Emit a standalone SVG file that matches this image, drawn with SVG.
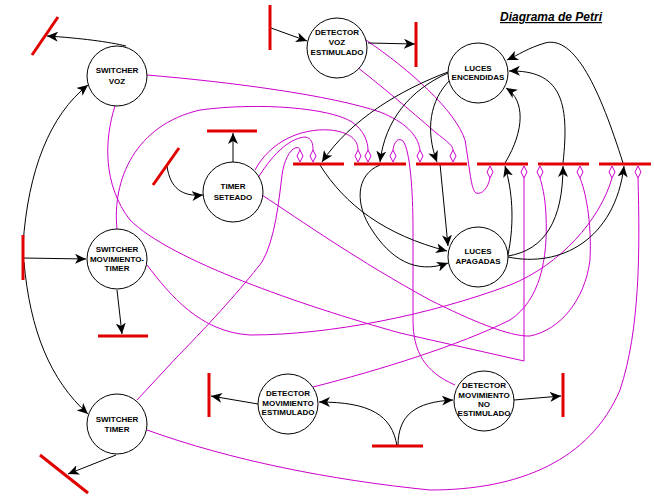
<svg xmlns="http://www.w3.org/2000/svg" width="654" height="500" viewBox="0 0 654 500">
<style>
.n circle{fill:#fff;stroke:#000;stroke-width:1}
.n text{font-family:"Liberation Sans",Arial,sans-serif;font-size:8px;font-weight:bold;text-anchor:middle;fill:#000}
.bar{stroke:#e00000;stroke-width:3;fill:none}
.a{fill:none;stroke:#000;stroke-width:1;marker-end:url(#ah)}
.m{fill:none;stroke:#cc00cc;stroke-width:1}
.d{fill:#fff;stroke:#cc00cc;stroke-width:1}
</style>
<defs>
<marker id="ah" markerUnits="userSpaceOnUse" markerWidth="12" markerHeight="10" refX="11" refY="5" orient="auto">
<path d="M0,0 L11,5 L0,10 L3,5 z" fill="#000"/>
</marker>
<path id="du" d="M0,0 L-3,-6 L0,-12 L3,-6 z"/>
<path id="dd" d="M0,0 L-3,6 L0,12 L3,6 z"/>
</defs>
<rect width="654" height="500" fill="#fff"/>
<text x="500" y="21" font-family="Liberation Sans,Arial,sans-serif" font-size="12" font-weight="bold" font-style="italic" text-decoration="underline">Diagrama de Petri</text>

<g id="connectors">
<g id="inhibitors">
<path class="m" d="M147,75 C230,82 330,95 380,112 C405,122 418,135 420,150"/>
<path class="m" d="M357,67 C380,85 410,110 435,132 C448,142 453,146 453,150"/>
<path class="m" d="M117,229 C112,180 135,125 200,110 C260,102 330,108 352,122 C364,130 368,142 368,150"/>
<path class="m" d="M258,178 C275,150 292,138 305,137 C312,138 313,144 313,150"/>
<path class="m" d="M255,170 C270,142 300,128 330,130 C350,132 358,140 358,150"/>
<path class="m" d="M137,400 L177,357 C215,318 240,290 262,262 C275,240 279,200 282,175 C284,160 290,150 295,148 C298,147 300,148 300,150"/>
<path class="m" d="M455,385 C425,372 413,352 413,320 L413,230 C413,190 410,150 403,141 C398,137 394,142 393,150"/>
<path class="m" d="M366,40 C410,70 455,110 465,140 C470,170 471,190 476,193 C482,195 488,188 490,178"/>
<path class="m" d="M115,106 C104,140 103,185 130,220 C170,260 300,305 400,333 L524,361 L524,178"/>
<path class="m" d="M262,195 C300,220 360,262 430,300 C470,320 510,337 530,336 C560,330 585,300 590,260 C592,220 585,190 580,178"/>
<path class="m" d="M147,265 C170,295 200,332 250,335 C330,335 430,315 510,285 C560,265 600,220 612,178"/>
<path class="m" d="M313,387 C380,370 460,345 510,320 C540,300 548,260 546,215 C545,195 542,185 540,178"/>
<path class="m" d="M147,430 C230,460 330,480 430,490 C520,490 590,460 620,390 C640,330 640,250 638,178"/>
</g>
<g id="diamonds" class="d">
<use href="#du" x="300" y="162" class="d"/>
<use href="#du" x="313" y="162" class="d"/>
<use href="#du" x="358" y="162" class="d"/>
<use href="#du" x="368" y="162" class="d"/>
<use href="#du" x="393" y="162" class="d"/>
<use href="#du" x="420" y="162" class="d"/>
<use href="#du" x="453" y="162" class="d"/>
<use href="#dd" x="490" y="166" class="d"/>
<use href="#dd" x="524" y="166" class="d"/>
<use href="#dd" x="540" y="166" class="d"/>
<use href="#dd" x="580" y="166" class="d"/>
<use href="#dd" x="612" y="166" class="d"/>
<use href="#dd" x="638" y="166" class="d"/>
</g>
<g id="arcs">
<path class="a" d="M126,46 C110,42 80,38 47,36"/>
<path class="a" d="M23,245 C28,170 50,115 88,85"/>
<path class="a" d="M23,258 L86,259"/>
<path class="a" d="M24,262 C30,330 50,380 88,414"/>
<path class="a" d="M117,290 L122,334"/>
<path class="a" d="M116,455 L68,474"/>
<path class="a" d="M271,28 L307,41"/>
<path class="a" d="M368,43 L415,44"/>
<path class="a" d="M167,166 C170,188 182,197 203,195"/>
<path class="a" d="M233,162 L233,133"/>
<path class="a" d="M258,404 L211,396"/>
<path class="a" d="M397,446 C392,415 370,402 319,402"/>
<path class="a" d="M398,446 C398,415 415,402 453,400"/>
<path class="a" d="M514,400 L561,396"/>
<path class="a" d="M448,72 C400,90 350,120 322,162"/>
<path class="a" d="M448,73 C410,90 385,120 380,162"/>
<path class="a" d="M450,80 C430,100 425,130 437,162"/>
<path class="a" d="M505,163 C525,130 525,100 506,88"/>
<path class="a" d="M563,163 C570,100 560,70 509,71"/>
<path class="a" d="M623,163 C600,90 575,35 545,43 C528,48 518,55 507,60"/>
<path class="a" d="M320,165 C345,205 385,235 447,251"/>
<path class="a" d="M380,165 C355,175 355,205 372,230 C390,258 415,275 448,263"/>
<path class="a" d="M440,164 L448,246"/>
<path class="a" d="M508,255 C515,220 512,190 505,166"/>
<path class="a" d="M508,256 C545,250 563,220 563,166"/>
<path class="a" d="M508,257 C560,268 615,240 624,166"/>
</g>
</g>

<g id="transitions" class="bar">
<line x1="58" y1="17" x2="32" y2="55"/>
<line x1="270" y1="5" x2="270" y2="50"/>
<line x1="416" y1="22" x2="416" y2="67"/>
<line x1="207" y1="131" x2="257" y2="131"/>
<line x1="179" y1="148" x2="153" y2="185"/>
<line x1="23" y1="235" x2="23" y2="280"/>
<line x1="98" y1="336" x2="148" y2="336"/>
<line x1="40" y1="455" x2="88" y2="493"/>
<line x1="209" y1="373" x2="209" y2="417"/>
<line x1="372" y1="446" x2="423" y2="446"/>
<line x1="563" y1="373" x2="563" y2="417"/>
<line x1="293" y1="164" x2="344" y2="164"/>
<line x1="354" y1="164" x2="406" y2="164"/>
<line x1="416" y1="164" x2="467" y2="164"/>
<line x1="477" y1="164" x2="528" y2="164"/>
<line x1="538" y1="164" x2="589" y2="164"/>
<line x1="599" y1="164" x2="651" y2="164"/>
</g>

<g id="switcher-voz" class="n"><circle cx="117" cy="76" r="30"/><text x="117" y="73">SWITCHER</text><text x="117" y="84">VOZ</text></g>
<g id="detector-voz" class="n"><circle cx="337" cy="48" r="30"/><text x="337" y="35">DETECTOR</text><text x="337" y="45">VOZ</text><text x="337" y="55">ESTIMULADO</text></g>
<g id="luces-encendidas" class="n"><circle cx="478" cy="73" r="30"/><text x="478" y="71">LUCES</text><text x="478" y="80">ENCENDIDAS</text></g>
<g id="timer-seteado" class="n"><circle cx="233" cy="192" r="30"/><text x="233" y="189">TIMER</text><text x="233" y="200">SETEADO</text></g>
<g id="switcher-mov-timer" class="n"><circle cx="117" cy="259" r="30"/><text x="117" y="252">SWITCHER</text><text x="117" y="262">MOVIMIENTO-</text><text x="117" y="271">TIMER</text></g>
<g id="luces-apagadas" class="n"><circle cx="478" cy="257" r="30"/><text x="478" y="254">LUCES</text><text x="478" y="264">APAGADAS</text></g>
<g id="switcher-timer" class="n"><circle cx="117" cy="424" r="30"/><text x="117" y="422">SWITCHER</text><text x="117" y="432">TIMER</text></g>
<g id="detector-mov-est" class="n"><circle cx="288" cy="404" r="30"/><text x="288" y="396">DETECTOR</text><text x="288" y="406">MOVIMIENTO</text><text x="288" y="415">ESTIMULADO</text></g>
<g id="detector-mov-no-est" class="n"><circle cx="484" cy="401" r="30"/><text x="484" y="388">DETECTOR</text><text x="484" y="398">MOVIMIENTO</text><text x="484" y="407">NO</text><text x="484" y="416">ESTIMULADO</text></g>
</svg>
